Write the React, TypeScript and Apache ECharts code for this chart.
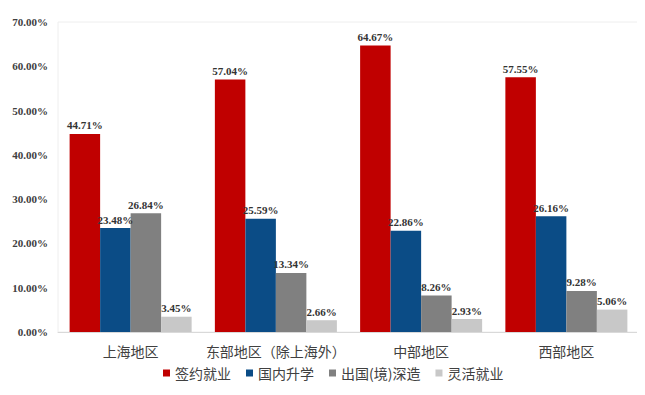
import React, { useEffect, useRef } from "react";
import * as echarts from "echarts";

const categories = ["上海地区", "东部地区（除上海外）", "中部地区", "西部地区"];
const seriesNames = ["签约就业", "国内升学", "出国(境)深造", "灵活就业"];
const signed = [44.71, 57.04, 64.67, 57.55];
const domestic = [23.48, 25.59, 22.86, 26.16];
const abroad = [26.84, 13.34, 8.26, 9.28];
const flexible = [3.45, 2.66, 2.93, 5.06];
const colors = ["#C00000", "#0B4C86", "#808080", "#C8C8C8"];

export default function App() {
  const ref = useRef<HTMLDivElement>(null);
  useEffect(() => {
    if (!ref.current) return;
    const chart = echarts.init(ref.current, null, { renderer: "svg" });
    const values = [signed, domestic, abroad, flexible];
    chart.setOption({
      animation: false,
      grid: { left: 58, right: 6, top: 22, bottom: 63, show: true, borderColor: "#eeeeee", borderWidth: 1 },
      legend: {
        bottom: 10,
        left: 158,
        icon: "rect",
        itemWidth: 7,
        itemHeight: 7,
        itemGap: 15,
        textStyle: { fontFamily: "Noto Sans CJK SC", fontSize: 14, color: "#404040" },
        data: seriesNames,
      },
      xAxis: {
        type: "category",
        data: categories,
        axisTick: { show: false },
        axisLine: { lineStyle: { color: "#d9d9d9" } },
        axisLabel: { interval: 0, fontFamily: "Noto Sans CJK SC", fontSize: 14, color: "#404040", margin: 12 },
      },
      yAxis: {
        type: "value",
        min: 0,
        max: 70,
        interval: 10,
        splitLine: { show: false },
        axisLine: { show: false },
        axisLabel: {
          formatter: (v: number) => v.toFixed(2) + "%",
          fontFamily: "Liberation Serif",
          fontWeight: "bold",
          fontSize: 11,
          color: "#404040",
          margin: 10,
        },
      },
      series: seriesNames.map((name, i) => ({
        name,
        type: "bar",
        data: values[i],
        barGap: "0%",
        barCategoryGap: "16%",
        itemStyle: { color: colors[i] },
        label: {
          show: true,
          position: "top",
          distance: 3,
          formatter: (p: any) => p.value.toFixed(2) + "%",
          fontFamily: "Liberation Serif",
          fontWeight: "bold",
          fontSize: 11,
          color: "#333",
        },
      })),
    });
    return () => chart.dispose();
  }, []);
  return <div ref={ref} style={{ width: 645, height: 395, margin: -8 }} />;
}
